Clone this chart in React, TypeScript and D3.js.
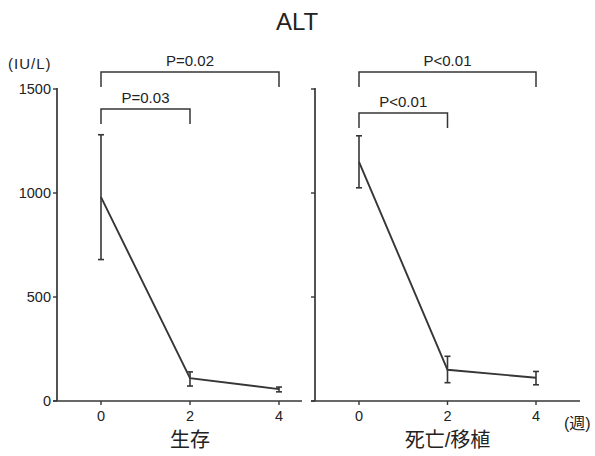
import React from "react";
import * as d3 from "d3";

const weeks = [0, 2, 4];
const yTicks = [0, 500, 1000, 1500];
const panelNames = ["生存", "死亡/移植"];
const survMean = [980, 110, 57];
const survLow = [680, 72, 44];
const survHigh = [1280, 140, 67];
const deadMean = [1150, 150, 112];
const deadLow = [1025, 88, 78];
const deadHigh = [1275, 215, 142];
const survP = [
  { from: 0, to: 4, label: "P=0.02" },
  { from: 0, to: 2, label: "P=0.03" },
];
const deadP = [
  { from: 0, to: 4, label: "P<0.01" },
  { from: 0, to: 2, label: "P<0.01" },
];

const W = 595;
const H = 456;
const INK = "#363636";
const FONT = "'Liberation Sans', 'Noto Sans CJK JP', sans-serif";

const y = d3.scaleLinear().domain([0, 1500]).range([401, 89]);

type PanelProps = {
  x0: number;
  x4: number;
  axisX: number;
  axisEnd: number;
  xStart: number;
  labels: boolean;
  mean: number[];
  low: number[];
  high: number[];
  pvals: { from: number; to: number; label: string }[];
  bracketY: number[];
  name: string;
};

function Panel(p: PanelProps) {
  const x = d3.scaleLinear().domain([0, 4]).range([p.x0, p.x4]);
  const line = d3
    .line<number>()
    .x((_, i) => x(weeks[i]))
    .y((d) => y(d));
  const pts = p.mean;
  return (
    <g>
      <line x1={p.axisX} x2={p.axisX} y1={y(1500) - 1} y2={y(0)} stroke={INK} strokeWidth={1.7} />
      {yTicks.map((t) => (
        <g key={t}>
          <line x1={p.axisX - 4} x2={p.axisX} y1={y(t)} y2={y(t)} stroke={INK} strokeWidth={1.4} />
          {p.labels && (
            <text x={p.axisX - 6} y={y(t) + 5} textAnchor="end" fontSize={14.5} fill="#222" fontFamily={FONT}>
              {t}
            </text>
          )}
        </g>
      ))}
      <line x1={p.xStart} x2={p.axisEnd} y1={y(0)} y2={y(0)} stroke={INK} strokeWidth={1.7} />
      {weeks.map((w) => (
        <g key={w}>
          <line x1={x(w)} x2={x(w)} y1={y(0)} y2={y(0) + 4} stroke={INK} strokeWidth={1.4} />
          <text x={x(w)} y={y(0) + 20} textAnchor="middle" fontSize={14.5} fill="#222" fontFamily={FONT}>
            {w}
          </text>
        </g>
      ))}
      <text x={x(2)} y={447} textAnchor="middle" fontSize={20} fill="#222" fontFamily={FONT}>
        {p.name}
      </text>
      {weeks.map((w, i) => (
        <g key={"e" + w} stroke={INK} strokeWidth={1.6}>
          <line x1={x(w)} x2={x(w)} y1={y(p.low[i])} y2={y(p.high[i])} />
          <line x1={x(w) - 3} x2={x(w) + 3} y1={y(p.low[i])} y2={y(p.low[i])} />
          <line x1={x(w) - 3} x2={x(w) + 3} y1={y(p.high[i])} y2={y(p.high[i])} />
        </g>
      ))}
      <path d={line(pts) || ""} fill="none" stroke={INK} strokeWidth={1.9} />
      {p.pvals.map((b, i) => {
        const by = p.bracketY[i];
        return (
          <g key={"b" + i}>
            <path
              d={`M${x(b.from)},${by + 15}V${by}H${x(b.to)}V${by + 15}`}
              fill="none"
              stroke={INK}
              strokeWidth={1.5}
            />
            <text
              x={(x(b.from) + x(b.to)) / 2}
              y={by - 6}
              textAnchor="middle"
              fontSize={15}
              fill="#222"
              fontFamily={FONT}
            >
              {b.label}
            </text>
          </g>
        );
      })}
    </g>
  );
}

export default function App() {
  return (
    <svg width={W} height={H} style={{ position: "absolute", left: 0, top: 0, background: "#fff" }}>
      <rect width={W} height={H} fill="#fff" />
      <text x={297} y={30} textAnchor="middle" fontSize={24} fill="#222" fontFamily={FONT}>
        ALT
      </text>
      <text x={8} y={69} fontSize={15} letterSpacing={1} fill="#222" fontFamily={FONT}>
        (IU/L)
      </text>
      <text x={564} y={429} fontSize={16} fill="#222" fontFamily={FONT}>
        (週)
      </text>
      <Panel
        x0={101}
        x4={279}
        axisX={57}
        xStart={53}
        axisEnd={302}
        labels={true}
        mean={survMean}
        low={survLow}
        high={survHigh}
        pvals={survP}
        bracketY={[72, 109]}
        name={panelNames[0]}
      />
      <Panel
        x0={359}
        x4={536}
        axisX={315}
        xStart={311}
        axisEnd={580}
        labels={false}
        mean={deadMean}
        low={deadLow}
        high={deadHigh}
        pvals={deadP}
        bracketY={[72, 113]}
        name={panelNames[1]}
      />
    </svg>
  );
}
